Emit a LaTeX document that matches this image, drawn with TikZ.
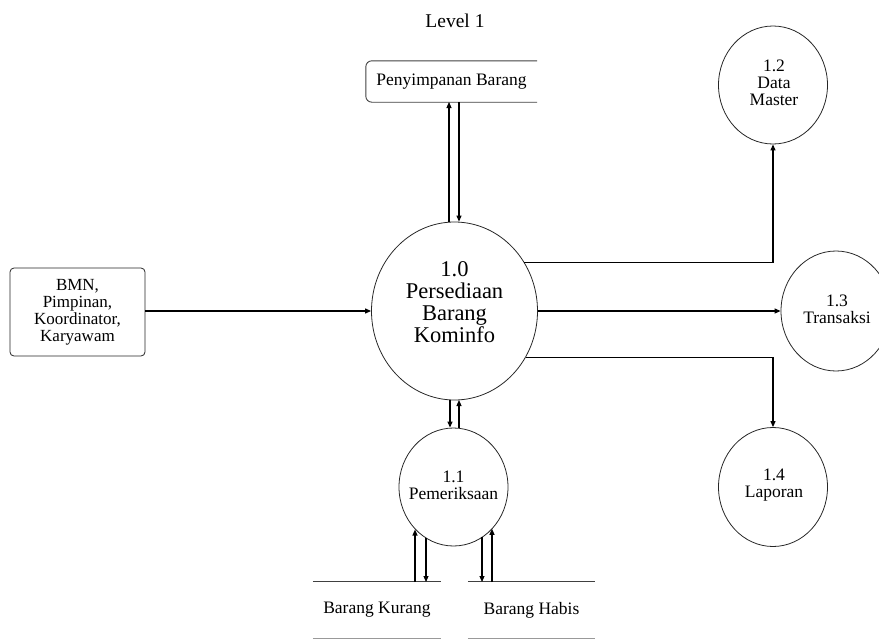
\documentclass[tikz,border=0pt]{standalone}
\usepackage{fontspec}
\setmainfont{Liberation Serif}
\usetikzlibrary{shapes.geometric,arrows.meta}
\tikzset{
  proc/.style={ellipse,draw=black!85,line width=0.8pt,inner sep=0pt},
  ptxt/.style={align=center,inner sep=0pt,font=\fontsize{17.5}{17}\selectfont},
  arr/.style={draw=black,line width=1.1pt,-{Triangle[length=6pt,width=5pt]}},
  ext/.style={draw=black!85,line width=0.8pt,rounded corners=4pt,align=center,
    minimum width=135pt,minimum height=88pt,inner sep=0pt,font=\fontsize{17}{17}\selectfont},
  storetxt/.style={inner sep=0pt,font=\fontsize{17.5}{17}\selectfont},
  storeline/.style={draw=black!75,line width=0.9pt},
  storelow/.style={draw=black!40,line width=0.9pt}
}
\begin{document}
\begin{tikzpicture}[x=1pt,y=-1pt]
\useasboundingbox (0,0) rectangle (879,640);
% title
\node[font=\fontsize{19.5}{19}\selectfont] (title) at (455,21) {Level 1};
% data store top
\node[storetxt,minimum width=171pt,minimum height=41pt] (ps) at (451.5,81.5) {Penyimpanan Barang};
\draw[storeline,rounded corners=6pt] (ps.north east) -- (ps.north west) -- (ps.south west) -- (ps.south east);
% central process
\node[proc,minimum width=166pt,minimum height=178pt] (c0) at (454.5,311) {};
\node[align=center,inner sep=0pt,font=\fontsize{22.5}{22}\selectfont] (c0t) at (454.5,302) {1.0\\Persediaan\\Barang\\Kominfo};
% external entity
\node[ext] (bmn) at (77.5,312) {BMN,\\Pimpinan,\\Koordinator,\\Karyawam};
% subprocesses
\node[proc,minimum width=109pt,minimum height=118pt] (c1) at (453.5,487) {};
\node[ptxt] (c1t) at (453.5,485) {1.1\\Pemeriksaan};
\node[proc,minimum width=109pt,minimum height=118pt] (c2) at (773,85) {};
\node[ptxt] (c2t) at (774,83) {1.2\\Data\\Master};
\node[proc,minimum width=110pt,minimum height=120pt] (c3) at (836,311) {};
\node[ptxt] (c3t) at (837,309) {1.3\\Transaksi};
\node[proc,minimum width=109pt,minimum height=119pt] (c4) at (773,487) {};
\node[ptxt] (c4t) at (774,485) {1.4\\Laporan};
% bottom data stores
\node[storetxt,minimum width=128pt,minimum height=56pt] (bk) at (377,610) {Barang Kurang};
\node[storetxt,minimum width=127pt,minimum height=56pt] (bh) at (531.5,610) {Barang Habis};
\draw[storeline] (bk.north west) -- (bk.north east);
\draw[storelow] (bk.south west) -- (bk.south east);
\draw[storeline] (bh.north west) -- (bh.north east);
\draw[storelow] (bh.south west) -- (bh.south east);
% connectors: store <-> central
\coordinate (p1) at (449,102);
\coordinate (p2) at (459,102);
\draw[arr] (p1 |- c0.north) -- (p1);
\draw[arr] (p2) -- (p2 |- c0.north);
% entity -> central
\draw[arr] (bmn.east |- c0.west) -- (c0.west);
% central -> 1.2, 1.3, 1.4
\draw[arr] (c0.35.3) -| (c2.south);
\draw[arr] (c0.east) -- (c3.west);
\draw[arr] (c0.327.1) -| (c4.north);
% central <-> 1.1
\coordinate (q1) at (450,400);
\coordinate (q2) at (459,400);
\draw[arr] (q1) -- (q1 |- c1.north);
\draw[arr] (q2 |- c1.north) -- (q2);
% 1.1 <-> bottom stores
\coordinate (k1) at (415,582);
\coordinate (k2) at (426,582);
\coordinate (h1) at (482,582);
\coordinate (h2) at (492,582);
\draw[arr] (k1) -- (k1 |- c1.228.3);
\draw[arr] (k2 |- c1.242.3) -- (k2);
\draw[arr] (h1 |- c1.300.1) -- (h1);
\draw[arr] (h2) -- (h2 |- c1.313.2);
\end{tikzpicture}
\end{document}
